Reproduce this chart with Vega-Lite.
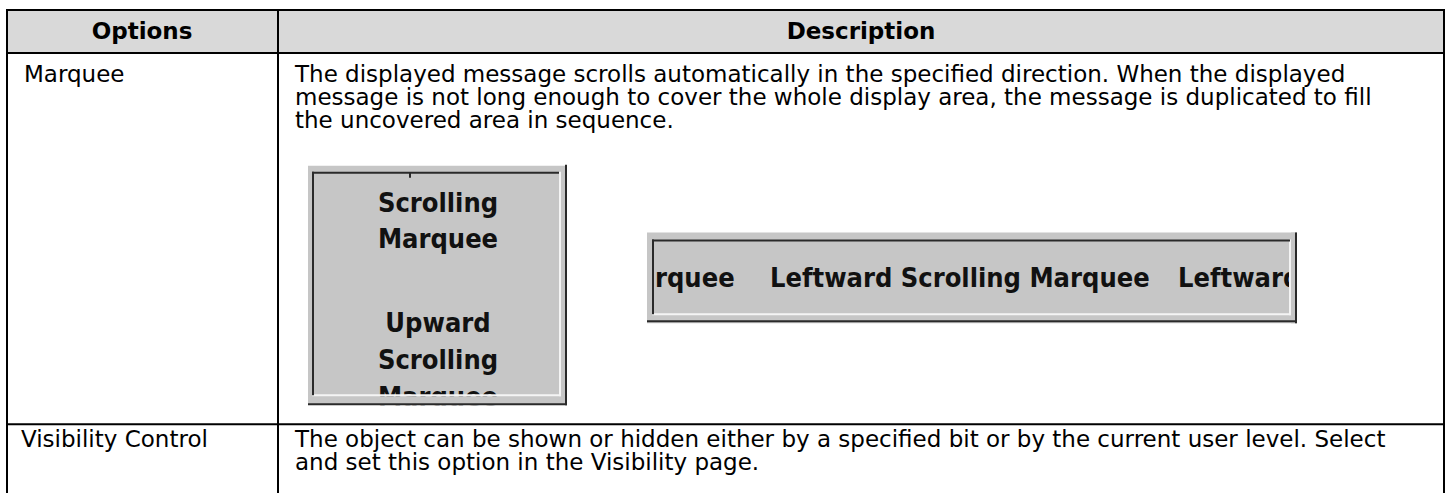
{
  "$schema": "https://vega.github.io/schema/vega-lite/v6.json",
  "width": 1451,
  "height": 494,
  "padding": 0,
  "autosize": {"type": "fit", "contains": "padding"},
  "background": "#ffffff",
  "config": {"view": {"stroke": null}},
  "encoding": {
    "x": {"field": "x", "type": "quantitative", "scale": {"domain": [0, 1451], "nice": false, "zero": false}, "axis": null},
    "y": {"field": "y", "type": "quantitative", "scale": {"domain": [0, 494], "nice": false, "zero": false, "reverse": true}, "axis": null}
  },
  "layer": [
    {
      "data": {"values": [
        {"part": "header", "x": 7, "x2": 1444, "y": 10, "y2": 53}
      ]},
      "mark": {"type": "rect", "color": "#d9d9d9"},
      "encoding": {"x2": {"field": "x2"}, "y2": {"field": "y2"}}
    },
    {
      "data": {"values": [
        {"part": "screen", "x": 308, "x2": 567, "y": 166, "y2": 406},
        {"part": "screen", "x": 647, "x2": 1297, "y": 233, "y2": 324}
      ]},
      "mark": {"type": "rect", "color": "#c6c6c6"},
      "encoding": {"x2": {"field": "x2"}, "y2": {"field": "y2"}}
    },
    {
      "data": {"values": [
        {"t": "Scrolling", "x": 438, "y": 212},
        {"t": "Marquee", "x": 438, "y": 249},
        {"t": "Upward", "x": 438, "y": 333},
        {"t": "Scrolling", "x": 438, "y": 370},
        {"t": "Marquee", "x": 438, "y": 407}
      ]},
      "mark": {"type": "text", "font": "DejaVu Sans Condensed", "fontWeight": "bold", "fontSize": 27, "align": "center", "baseline": "alphabetic", "color": "#111111"},
      "encoding": {"text": {"field": "t"}}
    },
    {
      "data": {"values": [
        {"t": "rquee", "x": 655, "y": 288},
        {"t": "Leftward Scrolling Marquee", "x": 770, "y": 288},
        {"t": "Leftward", "x": 1178, "y": 288}
      ]},
      "mark": {"type": "text", "font": "DejaVu Sans Condensed", "fontWeight": "bold", "fontSize": 27, "align": "left", "baseline": "alphabetic", "color": "#111111"},
      "encoding": {"text": {"field": "t"}}
    },
    {
      "data": {"values": [
        {"part": "screen", "x": 308, "x2": 567, "y": 397, "y2": 405},
        {"part": "screen", "x": 1291, "x2": 1297, "y": 233, "y2": 324}
      ]},
      "mark": {"type": "rect", "color": "#c6c6c6"},
      "encoding": {"x2": {"field": "x2"}, "y2": {"field": "y2"}}
    },
    {
      "data": {"values": [
        {"part": "page", "x": 300, "x2": 580, "y": 406, "y2": 422},
        {"part": "page", "x": 1297, "x2": 1340, "y": 233, "y2": 324}
      ]},
      "mark": {"type": "rect", "color": "#ffffff"},
      "encoding": {"x2": {"field": "x2"}, "y2": {"field": "y2"}}
    },
    {
      "data": {"values": [
        {"x": 312, "x2": 561, "y": 396, "y2": 396},
        {"x": 560, "x2": 560, "y": 172, "y2": 397},
        {"x": 652, "x2": 1291, "y": 315, "y2": 315},
        {"x": 1290, "x2": 1290, "y": 240, "y2": 316}
      ]},
      "mark": {"type": "rule", "color": "#f4f4f4", "strokeWidth": 2},
      "encoding": {"x2": {"field": "x2"}, "y2": {"field": "y2"}}
    },
    {
      "data": {"values": [
        {"x": 312, "x2": 559, "y": 173, "y2": 173},
        {"x": 313, "x2": 313, "y": 172, "y2": 396},
        {"x": 566, "x2": 566, "y": 165, "y2": 406},
        {"x": 308, "x2": 567, "y": 405, "y2": 405},
        {"x": 410, "x2": 410, "y": 173, "y2": 178},
        {"x": 652, "x2": 1290, "y": 241, "y2": 241},
        {"x": 653, "x2": 653, "y": 240, "y2": 315},
        {"x": 1296, "x2": 1296, "y": 233, "y2": 324},
        {"x": 647, "x2": 1297, "y": 322, "y2": 322}
      ]},
      "mark": {"type": "rule", "color": "#2a2a2a", "strokeWidth": 2},
      "encoding": {"x2": {"field": "x2"}, "y2": {"field": "y2"}}
    },
    {
      "data": {"values": [
        {"x": 6, "x2": 1445, "y": 10, "y2": 10},
        {"x": 6, "x2": 1445, "y": 53, "y2": 53},
        {"x": 6, "x2": 1445, "y": 425, "y2": 425},
        {"x": 7, "x2": 7, "y": 9, "y2": 494},
        {"x": 278, "x2": 278, "y": 9, "y2": 494},
        {"x": 1444, "x2": 1444, "y": 9, "y2": 494}
      ]},
      "mark": {"type": "rule", "color": "#000000", "strokeWidth": 2},
      "encoding": {"x2": {"field": "x2"}, "y2": {"field": "y2"}}
    },
    {
      "data": {"values": [
        {"t": "Options", "x": 142, "y": 39},
        {"t": "Description", "x": 861, "y": 39}
      ]},
      "mark": {"type": "text", "font": "DejaVu Sans", "fontWeight": "bold", "fontSize": 23, "align": "center", "baseline": "alphabetic", "color": "#000000"},
      "encoding": {"text": {"field": "t"}}
    },
    {
      "data": {"values": [
        {"t": ["Marquee"], "x": 24, "y": 82},
        {"t": ["Visibility Control"], "x": 21, "y": 448},
        {"t": ["The displayed message scrolls automatically in the specified direction. When the displayed", "message is not long enough to cover the whole display area, the message is duplicated to fill", "the uncovered area in sequence."], "x": 295, "y": 82},
        {"t": ["The object can be shown or hidden either by a specified bit or by the current user level. Select", "and set this option in the Visibility page."], "x": 295, "y": 448}
      ]},
      "mark": {"type": "text", "font": "DejaVu Sans", "fontSize": 23, "lineHeight": 23, "align": "left", "baseline": "alphabetic", "color": "#000000"},
      "encoding": {"text": {"field": "t"}}
    }
  ]
}
